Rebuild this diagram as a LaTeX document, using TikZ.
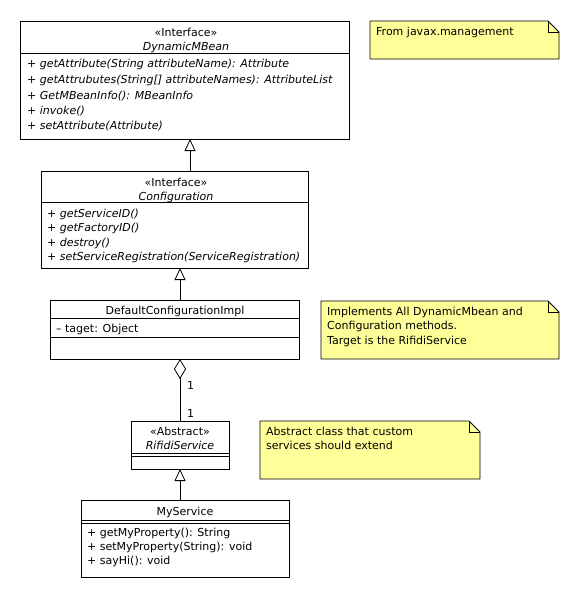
\documentclass[tikz,border=0pt]{standalone}
\usepackage{fontspec}
\setmainfont{DejaVu Sans}
\usetikzlibrary{arrows.meta}
\definecolor{noteyellow}{RGB}{255,255,153}
\tikzset{
  box/.style={draw, line width=0.8pt, fill=white, inner sep=0pt, outer sep=0pt, anchor=north west},
  txt/.style={anchor=west, inner sep=0pt, font=\fontsize{11}{12}\selectfont, text height=10pt, text depth=1pt},
  ctxt/.style={txt, anchor=center},
  itxt/.style={txt, font=\fontsize{11}{12}\selectfont\itshape},
  ictxt/.style={ctxt, font=\fontsize{11}{12}\selectfont\itshape},
  sep/.style={line width=0.8pt},
  gen/.style={line width=0.8pt, -{Triangle[open, width=11pt, length=12pt]}},
  agg/.style={line width=0.8pt, {Diamond[open, width=12pt, length=20pt]}-},
  notebody/.style={draw, line width=0.8pt, fill=noteyellow},
  fold/.style={line width=0.8pt},
}
\newcommand\umlnote[4]{%
  \filldraw[notebody] (#1,#2) -- (#3-11,#2) -- (#3,#2+11) -- (#3,#4) -- (#1,#4) -- cycle;
  \draw[fold] (#3-11,#2) -- (#3-11,#2+11) -- (#3,#2+11);
}
\begin{document}
\begin{tikzpicture}[x=1pt,y=-1pt]
\useasboundingbox[fill=white] (0,0) rectangle (580,600);

% ---------- DynamicMBean ----------
\node[box, minimum width=329pt, minimum height=118pt] (dyn) at (20,21) {};
\draw[sep] (dyn.west |- 0,53) -- (dyn.east |- 0,53);
\node[ctxt] (dynst) at (186,32) {«Interface»};
\node[ictxt] (dynnm) at (186,46) {DynamicMBean};
\node[txt] (dm1) at (27,63) {+ \textit{getAttribute(String attributeName): Attribute}};
\node[txt] (dm2) at (27,79) {+ \textit{getAttrubutes(String[] attributeNames): AttributeList}};
\node[txt] (dm3) at (27,95) {+ \textit{GetMBeanInfo(): MBeanInfo}};
\node[txt] (dm4) at (27,110) {+ \textit{invoke()}};
\node[txt] (dm5) at (27,125) {+ \textit{setAttribute(Attribute)}};

% ---------- Configuration ----------
\node[box, minimum width=267pt, minimum height=97pt] (conf) at (41,171) {};
\draw[sep] (conf.west |- 0,202) -- (conf.east |- 0,202);
\node[ctxt] (confst) at (176,182) {«Interface»};
\node[ictxt] (confnm) at (176,196) {Configuration};
\node[txt] (cm1) at (47,213) {+ \textit{getServiceID()}};
\node[txt] (cm2) at (47,227) {+ \textit{getFactoryID()}};
\node[txt] (cm3) at (47,242) {+ \textit{destroy()}};
\node[txt] (cm4) at (47,256) {+ \textit{setServiceRegistration(ServiceRegistration)}};

% ---------- DefaultConfigurationImpl ----------
\node[box, minimum width=249pt, minimum height=59pt] (dci) at (50,300) {};
\draw[sep] (dci.west |- 0,318) -- (dci.east |- 0,318);
\draw[sep] (dci.west |- 0,337) -- (dci.east |- 0,337);
\node[ctxt] (dcinm) at (175,310) {DefaultConfigurationImpl};
\node[txt] (dcia) at (56,328) {– taget: Object};

% ---------- RifidiService ----------
\node[box, minimum width=98pt, minimum height=48pt] (rif) at (131,421) {};
\draw[sep] (rif.west |- 0,453) -- (rif.east |- 0,453);
\draw[sep] (rif.west |- 0,456) -- (rif.east |- 0,456);
\node[ctxt] (rifst) at (180,431) {«Abstract»};
\node[ictxt] (rifnm) at (180,445) {RifidiService};

% ---------- MyService ----------
\node[box, minimum width=208pt, minimum height=77pt] (mys) at (81,500) {};
\draw[sep] (mys.west |- 0,520) -- (mys.east |- 0,520);
\draw[sep] (mys.west |- 0,523) -- (mys.east |- 0,523);
\node[ctxt] (mysnm) at (185,511) {MyService};
\node[txt] (mm1) at (87,532) {+ getMyProperty(): String};
\node[txt] (mm2) at (87,546) {+ setMyProperty(String): void};
\node[txt] (mm3) at (87,560) {+ sayHi(): void};

% ---------- connectors ----------
\coordinate (ax1) at (190,0);
\coordinate (ax2) at (180,0);
\draw[gen] (conf.north -| ax1) -- (dyn.south -| ax1);
\draw[gen] (dci.north -| ax2) -- (conf.south -| ax2);
\draw[agg] (dci.south -| ax2) -- (rif.north -| ax2);
\node[txt] (m1) at (187,385) {1};
\node[txt] (m2) at (187,413) {1};
\draw[gen] (mys.north -| ax2) -- (rif.south -| ax2);

% ---------- notes ----------
\umlnote{370}{21}{559}{59}
\node[txt] (n1) at (376,31) {From javax.management};

\umlnote{321}{301}{559}{359}
\node[txt] (n2a) at (327,311) {Implements All DynamicMbean and};
\node[txt] (n2b) at (327,325) {Configuration methods.};
\node[txt] (n2c) at (327,340) {Target is the RifidiService};

\umlnote{260}{421}{480}{479}
\node[txt] (n3a) at (266,431) {Abstract class that custom};
\node[txt] (n3b) at (266,445) {services should extend};
\end{tikzpicture}
\end{document}
